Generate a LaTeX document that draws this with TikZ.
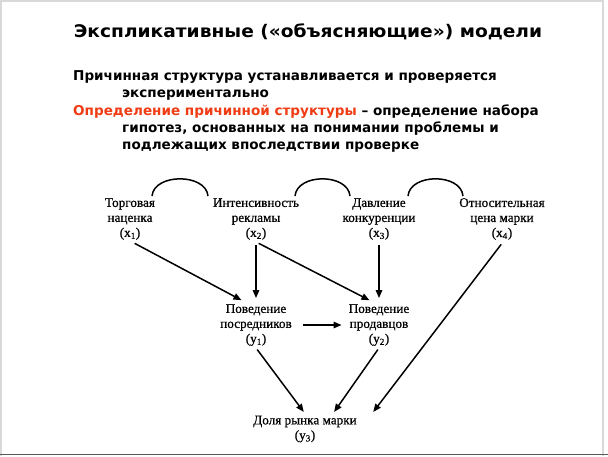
\documentclass[tikz,border=0pt]{standalone}
\usepackage{fontspec}
\setmainfont{Liberation Serif}
\newfontfamily\hdfont[FakeStretch=1.07]{DejaVu Sans}
\newfontfamily\bdfont{DejaVu Sans}
\newfontfamily\diagfont[FakeBold=0.6]{Liberation Serif}
\usetikzlibrary{arrows.meta}
\definecolor{redtxt}{RGB}{240,60,20}
\begin{document}
\begin{tikzpicture}[x=1pt,y=-1pt,
  var/.style={font=\diagfont\fontsize{13.2}{15}\selectfont, align=center, inner sep=2pt},
  arr/.style={line width=1.5pt, -{Triangle[length=8pt,width=6.5pt]}},
  corr/.style={line width=1.5pt},
  body/.style={font=\bdfont\bfseries\fontsize{13.55}{17}\selectfont, anchor=base west, inner sep=0pt},
  titlestyle/.style={font=\hdfont\bfseries\fontsize{17.4}{20}\selectfont, anchor=base, inner sep=0pt}]
\useasboundingbox (0,0) rectangle (608,456);
\fill[white] (0,0) rectangle (608,456);
\draw[gray!30, line width=2pt] (1,456) -- (1,1) -- (603,1) -- (603,456);
\draw[gray!70!black, line width=1pt] (0,454.5) -- (608,454.5);

\node[titlestyle] (title) at (308,37) {Экспликативные («объясняющие») модели};

\node[body] (l1) at (73,80) {Причинная структура устанавливается и проверяется};
\node[body] (l2) at (122,97) {экспериментально};
\node[body] (l3) at (73,115) {\textcolor{redtxt}{Определение причинной структуры} – определение набора};
\node[body] (l4) at (122,132) {гипотез, основанных на понимании проблемы и};
\node[body] (l5) at (122,149) {подлежащих впоследствии проверке};

\node[var] (x1) at (130,219) {Торговая\\наценка\\(x\textsubscript{1})};
\node[var] (x2) at (256,219) {Интенсивность\\рекламы\\(x\textsubscript{2})};
\node[var] (x3) at (379,219) {Давление\\конкуренции\\(x\textsubscript{3})};
\node[var] (x4) at (502,219) {Относительная\\цена марки\\(x\textsubscript{4})};
\node[var] (y1) at (256,325) {Поведение\\посредников\\(y\textsubscript{1})};
\node[var] (y2) at (379,325) {Поведение\\продавцов\\(y\textsubscript{2})};
\node[var] (y3) at (305,429) {Доля рынка марки\\(y\textsubscript{3})};

\draw[corr] ([xshift=22pt]x1.north) .. controls +(2,-23) and +(-2,-23) .. ([xshift=-48pt]x2.north);
\draw[corr] ([xshift=39pt]x2.north) .. controls +(2,-23) and +(-2,-23) .. ([xshift=-29pt]x3.north);
\draw[corr] ([xshift=29pt]x3.north) .. controls +(2,-23) and +(-2,-23) .. ([xshift=-39pt]x4.north);

\draw[arr, shorten <=3pt, shorten >=4pt] ([xshift=2pt]x1.south) -- ([xshift=-11pt]y1.north);
\draw[arr, shorten <=3pt, shorten >=4pt] (x2.south) -- (y1.north);
\draw[arr, shorten <=3pt, shorten >=4pt] (x2.south) -- ([xshift=-6pt]y2.north);
\draw[arr, shorten <=3pt, shorten >=4pt] (x3.south) -- (y2.north);
\draw[arr, shorten <=3pt, shorten >=2pt] ([xshift=1pt]x4.south) -- ([xshift=67pt]y3.north);
\draw[arr, shorten <=9pt, shorten >=5pt] (y1.east) -- (y2.west);
\draw[arr, shorten <=2pt, shorten >=2pt] (y1.south) -- (y3.north);
\draw[arr, shorten <=2pt, shorten >=2pt] (y2.south) -- ([xshift=28pt]y3.north);
\end{tikzpicture}
\end{document}
